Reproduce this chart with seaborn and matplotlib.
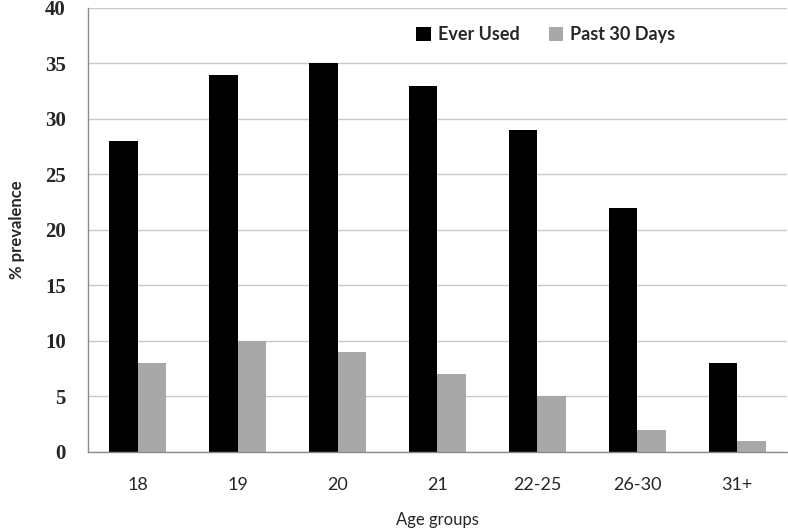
import numpy as np
import pandas as pd
import matplotlib
matplotlib.use('Agg')
import matplotlib.pyplot as plt
from matplotlib.patches import Patch
from matplotlib.ticker import FixedLocator
import seaborn as sns

age_groups = ['18', '19', '20', '21', '22-25', '26-30', '31+']
ever_used = [28, 34, 35, 33, 29, 22, 8]
past_30_days = [8, 10, 9, 7, 5, 2, 1]
series_names = ['Ever Used', 'Past 30 Days']
colors = ['#000000', '#a8a8a8']

df = pd.DataFrame({
    'Age groups': age_groups * 2,
    'value': ever_used + past_30_days,
    'series': [series_names[0]] * len(age_groups) + [series_names[1]] * len(age_groups),
})

sns.set_style('white')
plt.rcParams['font.family'] = ['Lato', 'DejaVu Sans']

fig = plt.figure(figsize=(7.88, 5.28), dpi=100)
ax = fig.add_axes([0.1117, 0.144, 0.887, 0.841])

sns.barplot(data=df, x='Age groups', y='value', hue='series',
            palette=colors, width=0.57, gap=0, saturation=1,
            edgecolor='none', linewidth=0, ax=ax, legend=False)

ax.set_ylim(0, 40)
ax.set_xlim(-0.5, len(age_groups) - 0.5)
ax.set_yticks(np.arange(0, 41, 5))
ax.yaxis.grid(True, color='#c8c8c8', linewidth=1)
ax.set_axisbelow(True)

for s in ['top', 'right']:
    ax.spines[s].set_visible(False)
for s in ['left', 'bottom']:
    ax.spines[s].set_color('#8c8c8c')
    ax.spines[s].set_linewidth(1)

# y tick labels: bold serif
for lbl in ax.get_yticklabels():
    lbl.set_fontfamily(['Liberation Serif', 'DejaVu Serif'])
    lbl.set_fontweight('bold')
    lbl.set_fontsize(15)
ax.tick_params(axis='y', length=0, pad=16)

# x: category boundaries as tick marks
ax.xaxis.set_minor_locator(FixedLocator(np.arange(-0.5, len(age_groups), 1)))
ax.tick_params(axis='x', which='major', length=0, pad=18, labelsize=13)
ax.tick_params(axis='x', which='minor', length=6, direction='out',
               color='#8c8c8c', width=1)

ax.set_xlabel('Age groups', fontsize=12, labelpad=14)
ax.set_ylabel('% prevalence', fontsize=12, fontweight='bold', labelpad=14)

handles = [Patch(facecolor=c, edgecolor='none') for c in colors]
ax.legend(handles, series_names, loc='center', bbox_to_anchor=(0.655, 0.94),
          ncol=2, frameon=False, handlelength=0.8, handleheight=0.8,
          handletextpad=0.4, columnspacing=1.6,
          prop={'family': ['Lato', 'DejaVu Sans'], 'weight': 'bold', 'size': 13})

fig.savefig('out.png', dpi=100)
